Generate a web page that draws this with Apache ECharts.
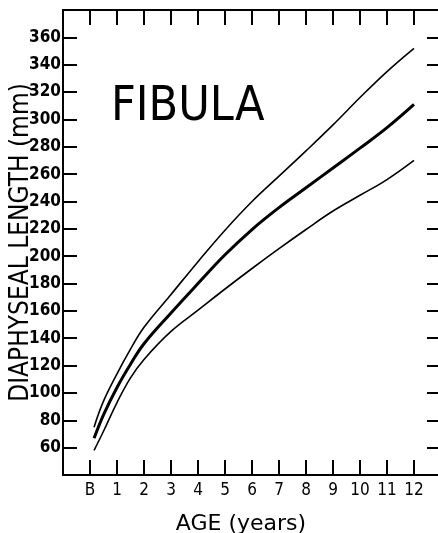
<!DOCTYPE html>
<html>
<head>
<meta charset="utf-8">
<script src="https://cdn.jsdelivr.net/npm/echarts@6/dist/echarts.min.js"></script>
<style>
html,body{margin:0;padding:0;background:#fff;}
#chart{width:438px;height:533px;}
</style>
</head>
<body>
<div id="chart"></div>
<script>
const ages = [0.15, 0.5, 1, 1.5, 2, 3, 4, 5, 6, 7, 8, 9, 10, 11, 12];
const upperValues = [75, 94, 114, 132, 148, 172, 196, 219, 240, 258.5, 277, 296, 316, 335, 352];
const meanValues = [66.8, 84, 104, 121, 136, 158.5, 180, 201, 219.5, 235.5, 250, 264.5, 279, 294, 311];
const lowerValues = [58, 72, 93, 111, 124.5, 145, 160.5, 176, 191, 205.5, 219.5, 233, 244.5, 256, 270];
const xTickValues = [0, 1, 2, 3, 4, 5, 6, 7, 8, 9, 10, 11, 12];
const xTickLabels = ['B', '1', '2', '3', '4', '5', '6', '7', '8', '9', '10', '11', '12'];
const yTickValues = [60, 80, 100, 120, 140, 160, 180, 200, 220, 240, 260, 280, 300, 320, 340, 360];

const pairs = vals => ages.map((a, i) => [a, vals[i]]);
const cond = 'DejaVu Sans Condensed';
const axisLine = {show: true, onZero: false, lineStyle: {color: '#000', width: 2}};
const tick = (len) => ({show: true, inside: true, length: len, lineStyle: {color: '#000', width: 2}});

const chart = echarts.init(document.getElementById('chart'), null, {renderer: 'canvas'});
chart.setOption({
  animation: false,
  backgroundColor: '#fff',
  title: {
    text: 'FIBULA', left: 106, top: 79,
    textStyle: {fontSize: 48, fontWeight: 'normal', fontFamily: cond, color: '#000'}
  },
  grid: {left: 63, top: 10, right: -3, bottom: 58, outerBoundsMode: 'none', containLabel: false},
  xAxis: [{
    type: 'value', position: 'bottom', min: -1, max: 13, interval: 1,
    axisLine: axisLine,
    axisTick: Object.assign(tick(15), {customValues: xTickValues}),
    axisLabel: {
      customValues: xTickValues, margin: 7, fontSize: 17, fontFamily: cond, color: '#000',
      formatter: v => xTickLabels[xTickValues.indexOf(v)] || ''
    },
    splitLine: {show: false},
    name: 'AGE (years)', nameLocation: 'middle', nameGap: 38, nameMoveOverlap: false,
    nameTextStyle: {fontSize: 22, fontFamily: 'DejaVu Sans', color: '#000', padding: [0, 22, 0, 0]}
  }, {
    type: 'value', position: 'top', min: -1, max: 13, interval: 1,
    axisLine: axisLine,
    axisTick: Object.assign(tick(15), {customValues: xTickValues}),
    axisLabel: {show: false},
    splitLine: {show: false}
  }],
  yAxis: [{
    type: 'value', position: 'left', min: 40, max: 380, interval: 20,
    axisLine: axisLine,
    axisTick: Object.assign(tick(14), {customValues: yTickValues}),
    axisLabel: {customValues: yTickValues, margin: 2, fontSize: 17, fontWeight: 'bold', fontFamily: cond, color: '#000'},
    splitLine: {show: false},
    name: 'DIAPHYSEAL LENGTH (mm)', nameLocation: 'middle', nameGap: 29, nameMoveOverlap: false,
    nameTextStyle: {fontSize: 26, fontFamily: cond, color: '#000'}
  }, {
    type: 'value', position: 'right', min: 40, max: 380, interval: 20,
    axisLine: axisLine,
    axisTick: Object.assign(tick(14), {customValues: yTickValues}),
    axisLabel: {show: false},
    splitLine: {show: false}
  }],
  series: [
    {name: 'Upper', type: 'line', data: pairs(upperValues), smooth: 0.4, showSymbol: false,
     lineStyle: {color: '#000', width: 1.6}},
    {name: 'Mean', type: 'line', data: pairs(meanValues), smooth: 0.4, showSymbol: false,
     lineStyle: {color: '#000', width: 3}},
    {name: 'Lower', type: 'line', data: pairs(lowerValues), smooth: 0.4, showSymbol: false,
     lineStyle: {color: '#000', width: 1.6}}
  ]
});
</script>
</body>
</html>
